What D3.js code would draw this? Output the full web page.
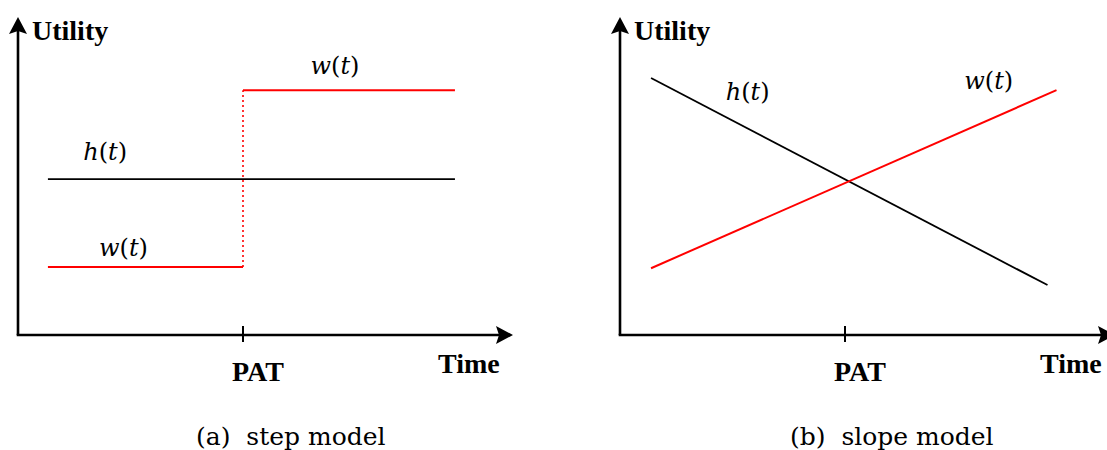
<!DOCTYPE html>
<html lang="en">
<head>
<meta charset="UTF-8" />
<title>Utility models: step vs slope</title>
<script src="https://d3js.org/d3.v7.min.js"></script>
<style>
  body { margin: 0; background: #fff; }
</style>
</head>
<body>
<div id="chart"></div>
<script>
// time units: 0 = axis origin, 1 = PAT
const PAT = 1;
const timeMax = 2.2;
const utilMax = 10;

// step model (a)
const stepH = [[0.133, 4.9], [1.942, 4.9]];
const stepW = [[0.133, 2.14], [PAT, 2.14], [PAT, 7.7], [1.942, 7.7]];

// slope model (b)
const slopeH = [[0.138, 8.08], [1.90, 1.57]];
const slopeW = [[0.138, 2.1], [1.94, 7.7]];

// curve label anchors [time, utility]
const labelsA = [
  { text: ["h", "t"], at: [0.29, 5.5] },
  { text: ["w", "t"], at: [1.30, 8.2] },
  { text: ["w", "t"], at: [0.36, 2.5] }
];
const labelsB = [
  { text: ["h", "t"], at: [0.47, 7.4] },
  { text: ["w", "t"], at: [1.53, 7.75] }
];

const panels = [
  { x0: 18, h: stepH, w: stepW, labels: labelsA, caption: "(a)\u00a0\u00a0step model", capX: 196 },
  { x0: 620, h: slopeH, w: slopeW, labels: labelsB, caption: "(b)\u00a0\u00a0slope model", capX: 790 }
];

const width = 1107, height = 450;
const yAxisTop = 17, xAxisY = 335;
const serifBold = "'Liberation Serif', serif";
const serif = "'DejaVu Serif', serif";

const svg = d3.select("#chart").append("svg")
  .attr("width", width)
  .attr("height", height);

const y = d3.scaleLinear().domain([0, utilMax]).range([xAxisY, yAxisTop]);

panels.forEach(p => {
  const x = d3.scaleLinear().domain([0, timeMax]).range([p.x0, p.x0 + 495]);
  const g = svg.append("g");
  const line = d3.line().x(d => x(d[0])).y(d => y(d[1]));

  // axes
  g.append("line")
    .attr("x1", x(0)).attr("y1", y(0))
    .attr("x2", x(0)).attr("y2", y(utilMax) + 12)
    .attr("stroke", "#000").attr("stroke-width", 2.6);
  g.append("line")
    .attr("x1", x(0) - 1.3).attr("y1", y(0))
    .attr("x2", x(timeMax) - 12).attr("y2", y(0))
    .attr("stroke", "#000").attr("stroke-width", 2.6);

  // arrowheads
  const ax = x(0), ay = y(utilMax);
  g.append("path")
    .attr("d", `M${ax},${ay} L${ax + 9},${ay + 17} L${ax},${ay + 14} L${ax - 9},${ay + 17} Z`)
    .attr("fill", "#000");
  const bx = x(timeMax), by = y(0);
  g.append("path")
    .attr("d", `M${bx},${by} L${bx - 17},${by - 9} L${bx - 14},${by} L${bx - 17},${by + 9} Z`)
    .attr("fill", "#000");

  // PAT tick
  g.append("line")
    .attr("x1", x(PAT)).attr("x2", x(PAT))
    .attr("y1", y(0) - 9).attr("y2", y(0) + 7)
    .attr("stroke", "#000").attr("stroke-width", 2);

  // axis labels
  const bold = (tx, ty, s, anchor) => g.append("text")
    .attr("x", tx).attr("y", ty)
    .attr("font-family", serifBold).attr("font-weight", "bold").attr("font-size", 28)
    .attr("text-anchor", anchor || "start").text(s);
  bold(x(0) + 14, 40, "Utility");
  bold(x(timeMax) - 75, 373, "Time");
  bold(x(PAT) + 15, 381, "PAT", "middle");

  // h(t)
  g.append("path").attr("d", line(p.h))
    .attr("fill", "none").attr("stroke", "#000").attr("stroke-width", 1.8);

  // w(t): dotted vertical segments in the step model
  for (let i = 1; i < p.w.length; i++) {
    const a = p.w[i - 1], b = p.w[i];
    const vertical = a[0] === b[0];
    g.append("path").attr("d", line([a, b]))
      .attr("fill", "none").attr("stroke", "#ff0000")
      .attr("stroke-width", vertical ? 1.6 : 2)
      .attr("stroke-dasharray", vertical ? "2,3" : null);
  }

  // curve labels
  p.labels.forEach(l => {
    const t = g.append("text")
      .attr("font-family", serif).attr("font-size", 24)
      .attr("x", x(l.at[0])).attr("y", y(l.at[1]));
    t.append("tspan").attr("font-style", "italic").text(l.text[0]);
    t.append("tspan").text("(");
    t.append("tspan").attr("font-style", "italic").text(l.text[1]);
    t.append("tspan").text(")");
  });

  // caption
  svg.append("text")
    .attr("font-family", serif).attr("font-size", 25)
    .attr("x", p.capX).attr("y", 445).text(p.caption);
});
</script>
</body>
</html>
